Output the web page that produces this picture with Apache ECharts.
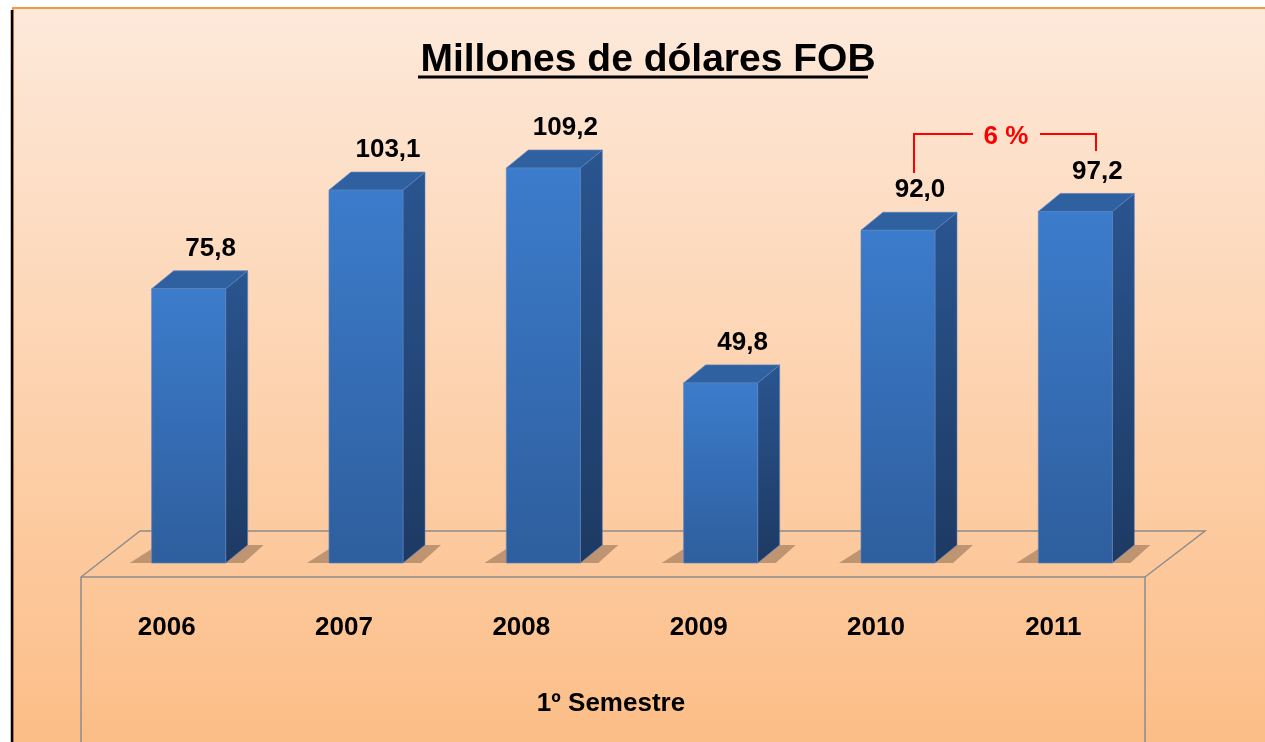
<!DOCTYPE html>
<html>
<head>
<meta charset="utf-8">
<script src="https://cdn.jsdelivr.net/npm/echarts@6/dist/echarts.min.js"></script>
<style>
  html, body { margin: 0; padding: 0; background: #fff; }
  #chart { width: 1265px; height: 742px; }
</style>
</head>
<body>
<div id="chart"></div>
<script>
// datos: 1º semestre, millones de dólares FOB
var years = ['2006', '2007', '2008', '2009', '2010', '2011'];
var values = [75.8, 103.1, 109.2, 49.8, 92.0, 97.2];
var valueLabels = ['75,8', '103,1', '109,2', '49,8', '92,0', '97,2'];
var growthText = '6 %';

var FONT = '"Liberation Sans", Arial, sans-serif';
var myChart = echarts.init(document.getElementById('chart'));

var barW = 74;   // cara frontal
var dx = 22;     // profundidad
var dy = 18;

function renderBar(params, api) {
    var i = api.value(0);
    var base = api.coord([i, 0]);
    var top = api.coord([i, api.value(1)]);
    var x0 = base[0] - barW / 2, x1 = base[0] + barW / 2;
    var yb = base[1], yt = top[1];
    return {
        type: 'group',
        children: [
            // sombra en el piso
            { type: 'polygon', shape: { points: [[x0, yb], [x0 - 22, yb], [x0, yb - 14]] },
              style: { fill: 'rgba(100,70,50,0.4)' } },
            { type: 'polygon', shape: { points: [[x1, yb], [x1 + dx, yb - dy], [x1 + dx + 16, yb - dy], [x1 + 18, yb]] },
              style: { fill: 'rgba(100,70,50,0.4)' } },
            // lado derecho
            { type: 'polygon', shape: { points: [[x1, yt], [x1 + dx, yt - dy], [x1 + dx, yb - dy], [x1, yb]] },
              style: { fill: new echarts.graphic.LinearGradient(0, 0, 0, 1, [
                  { offset: 0, color: '#2a5590' }, { offset: 1, color: '#1d3a63' }]),
                  stroke: 'rgba(90,130,190,0.6)', lineWidth: 1 } },
            // cara superior
            { type: 'polygon', shape: { points: [[x0, yt], [x0 + dx, yt - dy], [x1 + dx, yt - dy], [x1, yt]] },
              style: { fill: '#2f60a0', stroke: 'rgba(90,130,190,0.7)', lineWidth: 1 } },
            // cara frontal
            { type: 'rect', shape: { x: x0, y: yt, width: barW, height: yb - yt },
              style: { fill: new echarts.graphic.LinearGradient(0, 0, 0, 1, [
                  { offset: 0, color: '#3c7ccc' }, { offset: 1, color: '#2e5e9d' }]),
                  stroke: 'rgba(90,130,190,0.7)', lineWidth: 1 } },
            // etiqueta de valor
            { type: 'text', x: base[0] + 22, y: yt - 40,
              style: { text: valueLabels[i], font: 'bold 26px ' + FONT, fill: '#000',
                       align: 'center', verticalAlign: 'middle' } }
        ]
    };
}

var floorColor = '#8c8c8c';
var option = {
    backgroundColor: '#fff',
    title: {
        text: 'Millones de dólares FOB',
        left: 643, top: 36, textAlign: 'center',
        textStyle: { fontFamily: FONT, fontWeight: 'bold', fontSize: 39, color: '#000' }
    },
    grid: { left: 100, right: 101, top: 129, bottom: 179 },
    xAxis: {
        type: 'category',
        data: years,
        axisLine: { show: false },
        axisTick: { show: false },
        axisLabel: { margin: 52, padding: [0, 44, 0, 0], fontFamily: FONT, fontWeight: 'bold',
                     fontSize: 26, color: '#000' },
        name: '1º Semestre',
        nameLocation: 'middle',
        nameGap: 128,
        nameTextStyle: { padding: [0, 42, 0, 0], fontFamily: FONT, fontWeight: 'bold',
                         fontSize: 26, color: '#000' }
    },
    yAxis: { type: 'value', min: 0, max: 120, show: false },
    graphic: [
        // fondo y marco
        { type: 'rect', z: -10, shape: { x: 13, y: 8, width: 1262, height: 744 },
          style: { fill: new echarts.graphic.LinearGradient(0, 0, 0, 1, [
              { offset: 0, color: '#fde9da' }, { offset: 1, color: '#fcbd86' }]),
              stroke: '#f79646', lineWidth: 2 } },
        { type: 'line', z: -9, shape: { x1: 12, y1: 10, x2: 12, y2: 742 },
          style: { stroke: '#000', lineWidth: 2.5 } },
        // subrayado del título
        { type: 'line', shape: { x1: 418, y1: 77, x2: 868, y2: 77 },
          style: { stroke: '#000', lineWidth: 3 } },
        // piso
        { type: 'polyline', shape: { points: [[81, 742], [81, 577], [140, 531], [1205, 531], [1145, 577], [1145, 742]] },
          style: { stroke: floorColor, lineWidth: 1.5, fill: null } },
        { type: 'line', shape: { x1: 81, y1: 577, x2: 1145, y2: 577 },
          style: { stroke: floorColor, lineWidth: 1.5 } },
        // variación 2010-2011
        { type: 'polyline', shape: { points: [[914, 173], [914, 134], [973, 134]] },
          style: { stroke: '#ff0000', lineWidth: 2, fill: null } },
        { type: 'polyline', shape: { points: [[1040, 134], [1096, 134], [1096, 151]] },
          style: { stroke: '#ff0000', lineWidth: 2, fill: null } },
        { type: 'text', x: 1006, y: 137,
          style: { text: growthText, font: 'bold 26px ' + FONT, fill: '#ff0000',
                   align: 'center', verticalAlign: 'middle' } }
    ],
    series: [{
        type: 'custom',
        renderItem: renderBar,
        data: values.map(function (v, i) { return [i, v]; }),
        z: 5
    }]
};
myChart.setOption(option);
</script>
</body>
</html>
